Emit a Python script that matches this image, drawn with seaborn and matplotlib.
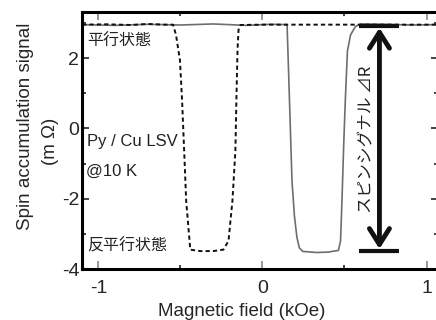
import numpy as np
import pandas as pd
import matplotlib
matplotlib.use("Agg")
import matplotlib.pyplot as plt
import seaborn as sns
from matplotlib.ticker import MultipleLocator

# ---- data ----
dash_x = [-1.10, -0.95, -0.80, -0.70, -0.60, -0.545, -0.527, -0.503, -0.49, -0.475, -0.465, -0.44,
          -0.38, -0.30, -0.238, -0.207, -0.183, -0.165, -0.159, -0.152, -0.146, -0.134, 0.0, 0.3, 0.6, 0.9, 1.07]
dash_y = [2.95, 2.96, 2.94, 2.97, 2.95, 2.95, 2.66, 1.94, 0.80, -0.90, -2.06, -3.45,
          -3.49, -3.49, -3.45, -3.20, -2.06, -0.63, 0.80, 2.23, 2.80, 2.94, 2.95, 2.95, 2.95, 2.95, 2.95]

solid_x = [-1.10, -0.90, -0.70, -0.50, -0.30, -0.10, 0.05, 0.150, 0.160, 0.170, 0.180, 0.195, 0.210, 0.225,
           0.245, 0.33, 0.40, 0.463, 0.476, 0.485, 0.495, 0.505, 0.518, 0.537, 0.567, 0.60, 0.75, 0.90, 1.07]
solid_y = [2.95, 2.93, 2.96, 2.94, 2.97, 2.93, 2.96, 2.95, 1.50, 0.00, -1.50, -2.50, -3.10, -3.40,
           -3.50, -3.53, -3.52, -3.47, -3.20, -2.00, -0.50, 0.80, 2.20, 2.66, 2.90, 2.97, 2.96, 2.94, 2.95]

x_ticks = [-1, 0, 1]
y_ticks = [-4, -2, 0, 2]

sns.set_theme(style="ticks")
plt.rcParams['font.family'] = ['Liberation Sans', 'Noto Sans CJK JP', 'DejaVu Sans']
plt.rcParams['axes.unicode_minus'] = False

fig = plt.figure(figsize=(4.36, 3.20), dpi=100)
ax = fig.add_axes([82/436, 51/320, 356/436, 257/320])

df_d = pd.DataFrame({"x": dash_x, "y": dash_y})
df_s = pd.DataFrame({"x": solid_x, "y": solid_y})
sns.lineplot(data=df_s, x="x", y="y", ax=ax, color="#6e6e6e", lw=1.2, sort=False)
sns.lineplot(data=df_d, x="x", y="y", ax=ax, color="#111111", lw=1.4, sort=False,
             linestyle=(0, (2.2, 1.6)))

ax.set_xlim(-1.10, 1.07)
ax.set_ylim(-4, 3.31)
ax.set_xticks(x_ticks)
ax.set_yticks(y_ticks)
ax.xaxis.set_minor_locator(MultipleLocator(0.5))
ax.yaxis.set_minor_locator(MultipleLocator(1))
ax.tick_params(which='both', direction='in', top=True, right=True, width=1.2)
ax.tick_params(which='major', length=5, labelsize=14)
ax.tick_params(which='minor', length=3, color='#222222')
ax.tick_params(axis='x', which='major', pad=8, color='#888888', length=6)
ax.tick_params(axis='y', which='major', pad=2, color='#222222')
for s in ax.spines.values():
    s.set_linewidth(2.2)
    s.set_color('black')
ax.set_xlabel("")
ax.set_ylabel("")

fig.text(242/436, 4/320, "Magnetic field (kOe)", ha='center', va='baseline', fontsize=13.5)
fig.text(25/436, 1-126.5/320, "Spin accumulation signal", rotation=90, ha='center', va='center', fontsize=13.5)
fig.text(50/436, 1-141/320, "(m Ω)", rotation=90, ha='center', va='center', fontsize=13.5)

cjk = ['Noto Sans CJK JP', 'DejaVu Sans']
ax.text(-1.07, 2.46, "平行状態", family=cjk, fontsize=11.5, va='center', ha='left', color='#222222')
ax.text(-1.07, -3.34, "反平行状態", family=cjk, fontsize=11.5, va='center', ha='left', color='#222222')
ax.text(-1.07, -0.37, "Py / Cu LSV", fontsize=12, va='center', ha='left', color='#222222')
ax.text(-1.073, -1.23, "@10 K", fontsize=12, va='center', ha='left', color='#222222')
ax.text(0.635, -0.30, "スピンシグナル ⊿R", family=cjk, fontsize=12, rotation=90,
        va='center', ha='center', color='#222222')

# double arrow with end bars
ax.plot([0.59, 0.835], [2.92, 2.92], color='#111111', lw=3, solid_capstyle='butt')
ax.plot([0.59, 0.835], [-3.49, -3.49], color='#111111', lw=3, solid_capstyle='butt')
ax.annotate("", xy=(0.713, 2.86), xytext=(0.713, -3.43),
            arrowprops=dict(arrowstyle="<->,head_length=0.95,head_width=0.6",
                            color='#111111', lw=3.5, shrinkA=0, shrinkB=0))

fig.savefig("out.png", dpi=100)
